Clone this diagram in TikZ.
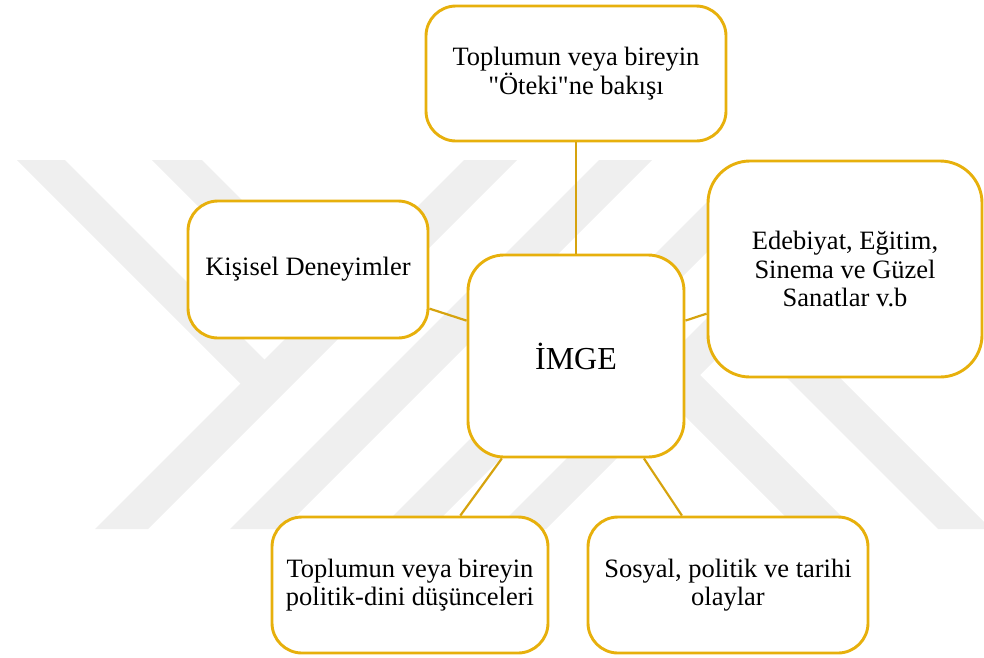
\documentclass[tikz,border=0pt]{standalone}
\usepackage{fontspec}
\setmainfont{Liberation Serif}[Ligatures=TeXOff]
\definecolor{gold}{RGB}{231,176,12}
\definecolor{linkgold}{RGB}{214,163,14}
\definecolor{wm}{RGB}{239,239,239}
\begin{document}
\begin{tikzpicture}[x=1pt,y=-1pt,
  box/.style={draw=gold, line width=2.9pt, fill=white, align=center, inner sep=0pt,
    font=\fontsize{26.5}{28.5}\selectfont},
  link/.style={draw=linkgold, line width=2.2pt},
  mark stripe/.style={fill=wm}]
\useasboundingbox (0,0) rectangle (984,657);
\begin{scope}
\clip (0,0) rectangle (984,657);
% left figure
\fill[mark stripe] (17,160) -- (65,160) -- (277.5,372.5) -- (253.5,396.5) -- cycle;
\fill[mark stripe] (152,160) -- (202,160) -- (346,304) -- (321,329) -- cycle;
\fill[mark stripe] (464,160) -- (517,160) -- (148,529) -- (95,529) -- cycle;
\fill[mark stripe] (599,160) -- (652,160) -- (283,529) -- (230,529) -- cycle;
% right figure
\fill[mark stripe] (749,160) -- (799,160) -- (430,529) -- (380,529) -- cycle;
\fill[mark stripe] (865,160) -- (915,160) -- (546,529) -- (496,529) -- cycle;
\fill[mark stripe] (798,529) -- (854,529) -- (687.5,362.5) -- (659.5,390.5) -- cycle;
\fill[mark stripe] (938,529) -- (991,529) -- (756,294) -- (729.5,320.5) -- cycle;
\end{scope}

\node[box, minimum width=300pt, minimum height=135pt, rounded corners=30pt] (top) at (576,73.5)
  {Toplumun veya bireyin\\"Öteki"ne bakışı};
\node[box, minimum width=240pt, minimum height=137pt, rounded corners=30pt] (kis) at (308,269.5)
  {Kişisel Deneyimler};
\node[box, minimum width=216pt, minimum height=202pt, rounded corners=36pt,
  font=\fontsize{32}{36}\selectfont] (img) at (576,356) {İMGE};
\node[box, minimum width=274pt, minimum height=216pt, rounded corners=42pt] (ede) at (845,269)
  {Edebiyat, Eğitim,\\Sinema ve Güzel\\Sanatlar v.b};
\node[box, minimum width=276pt, minimum height=136pt, rounded corners=30pt] (bl) at (410,585)
  {Toplumun veya bireyin\\politik-dini düşünceleri};
\node[box, minimum width=280pt, minimum height=136pt, rounded corners=30pt] (br) at (728,585)
  {Sosyal, politik ve tarihi\\olaylar};

\draw[link] (img) -- (top);
\draw[link] (img) -- (kis);
\draw[link] (img) -- (ede);
\draw[link] (img) -- (bl);
\draw[link] (img) -- (br);
\end{tikzpicture}
\end{document}
